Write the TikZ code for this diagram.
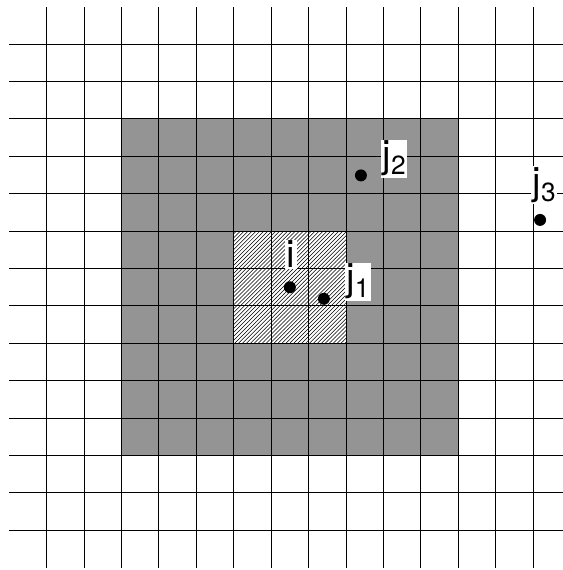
\documentclass[tikz,border=0pt]{standalone}
\usepackage{fontspec}
\setsansfont{TeX Gyre Heros}
\usepackage{tikz}
\usetikzlibrary{patterns,positioning}
\usepackage{xcolor}
\definecolor{cellgray}{gray}{0.58}
\newcommand{\jsub}[1]{\raisebox{-5pt}{\fontsize{20}{20}\selectfont #1}}

\begin{document}
\begin{tikzpicture}[scale=1,
        dot/.style={circle, fill=black, inner sep=0pt, minimum size=0.32cm},
        lab/.style={fill=white, inner sep=1pt, font=\sffamily\fontsize{29}{30}\selectfont}]
        \useasboundingbox (-0.25,-0.06) rectangle (14.8,15.18);

        % Shaded neighbourhood and hatched centre block
        \fill[cellgray] (3,3) rectangle (12,12);
        \fill[white] (6,6) rectangle (9,9);
        \fill[pattern=north east lines] (6,6) rectangle (9,9);

        % Draw grid
        \foreach \x in {1,...,14}
            \draw[line width=0.7pt] (\x,0) -- (\x,15);
        \foreach \y in {1,...,14}
            \draw[line width=0.7pt] (0,\y) -- (15,\y);

        % Points
        \node[dot] (i) at (7.5,7.5) {};
        \node[dot] (j1) at (8.41,7.19) {};
        \node[dot] (j2) at (9.4,10.49) {};
        \node[dot] (j3) at (14.19,9.3) {};

        % Labels
        \node[lab, anchor=base] (li) at (7.53,8.02) {i};
        \node[lab, anchor=base west] (lj1) at (8.97,7.4) {j\jsub{1}};
        \node[lab, anchor=base west] (lj2) at (9.94,10.69) {j\jsub{2}};
        \node[lab, anchor=base west] (lj3) at (13.95,9.98) {j\jsub{3}};
    \end{tikzpicture}
\end{document}
